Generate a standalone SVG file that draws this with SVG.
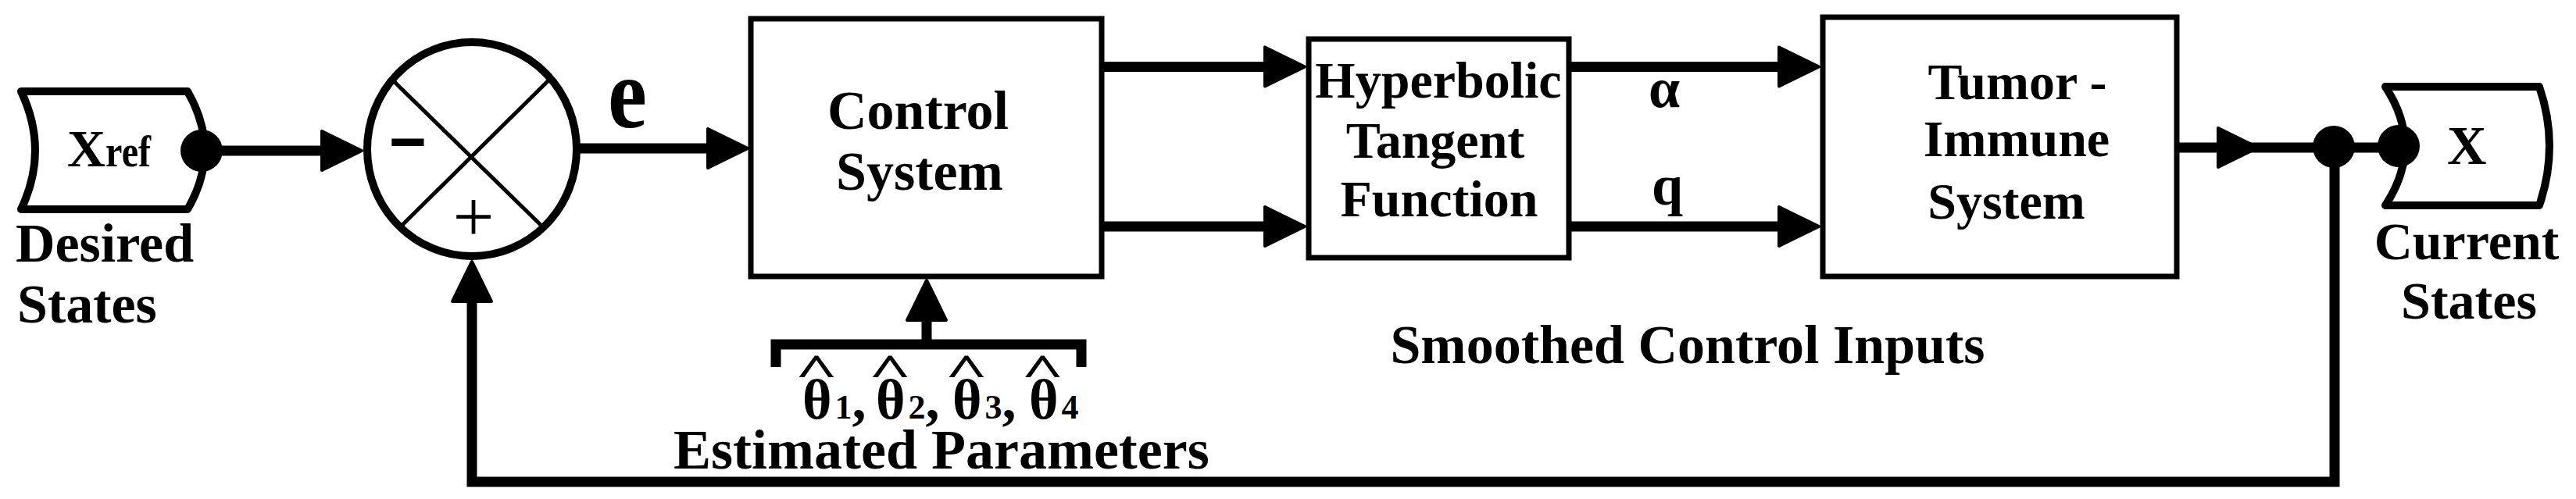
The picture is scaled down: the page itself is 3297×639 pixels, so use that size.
<svg xmlns="http://www.w3.org/2000/svg" xmlns:xlink="http://www.w3.org/1999/xlink" width="3297" height="639" viewBox="0 0 3297 639">
<style>
.t{font-family:"Liberation Serif","Times New Roman",serif;font-weight:bold;fill:#000}
.m{text-anchor:middle}
.box{fill:#fff;stroke:#000;stroke-width:7}
.term{fill:#fff;stroke:#000;stroke-width:10;stroke-linejoin:round}
.ln{fill:none;stroke:#000;stroke-width:13}
.ah{fill:#000;stroke:#000;stroke-width:4;stroke-linejoin:round}
.dot{fill:#000}
</style>
<defs>
<path id="ah" class="ah" d="M-2,0 L-53,-25 L-53,25 Z"/>
</defs>
<rect width="3297" height="639" fill="#fff"/>

<g id="connectors">
<path class="ln" d="M258,193 H440"/>
<path class="ln" d="M738,190 H930"/>
<path class="ln" d="M1410,85.5 H1650 M1410,290 H1650"/>
<path class="ln" d="M2008,85.5 H2305 M2008,290 H2305"/>
<path class="ln" d="M2788,189 H3070"/>
<path class="ln" d="M2988,188 V617 H604 V360"/>
<path class="ln" d="M1186,441 V390"/>
<path class="ln" d="M993,470 V441 H1384 V470"/>
<use xlink:href="#ah" href="#ah" transform="translate(465,193)"/>
<use xlink:href="#ah" href="#ah" transform="translate(959,190)"/>
<use xlink:href="#ah" href="#ah" transform="translate(1672,85.5)"/>
<use xlink:href="#ah" href="#ah" transform="translate(1672,290)"/>
<use xlink:href="#ah" href="#ah" transform="translate(2330,85.5)"/>
<use xlink:href="#ah" href="#ah" transform="translate(2330,290)"/>
<use xlink:href="#ah" href="#ah" transform="translate(2892,189)"/>
<use xlink:href="#ah" href="#ah" transform="translate(1186,357) rotate(-90)"/>
<use xlink:href="#ah" href="#ah" transform="translate(604,333) rotate(-90)"/>
<circle class="dot" cx="2987" cy="188" r="27"/>
</g>

<g id="xref">
<path class="term" d="M27,117 H240 Q284,193 240,268 H27 Q63,193 27,117 Z"/>
<circle class="dot" cx="258" cy="193" r="27"/>
<text class="t" x="86" y="213" font-size="68">X<tspan font-size="58" textLength="58" lengthAdjust="spacingAndGlyphs">ref</tspan></text>
<text class="t" x="20" y="335" font-size="70">Desired</text>
<text class="t" x="22" y="413" font-size="70">States</text>
</g>

<g id="sum">
<ellipse cx="604" cy="191" rx="134" ry="137" fill="#fff" stroke="#000" stroke-width="10"/>
<path d="M503,103 L692,288 M702,103 L515,288" stroke="#000" stroke-width="5" fill="none"/>
<text class="t m" x="522" y="209" font-size="80" stroke="#000" stroke-width="4">−</text>
<text class="m" x="606" y="309" font-size="94" font-family="Liberation Serif, serif">+</text>
</g>

<text id="e-label" class="t" x="778" y="163" font-size="130" textLength="50" lengthAdjust="spacingAndGlyphs">e</text>

<g id="control">
<rect class="box" x="961" y="24" width="449" height="330"/>
<text class="t m" x="1175" y="165" font-size="70">Control</text>
<text class="t m" x="1177" y="243" font-size="70">System</text>
</g>

<g id="params">
<text class="t m" y="494" font-size="60" transform="scale(1.6,1)"><tspan x="653">^</tspan><tspan x="712">^</tspan><tspan x="773">^</tspan><tspan x="834">^</tspan></text>
<text class="t" y="536" font-size="72"><tspan x="1027">θ</tspan><tspan dx="4" font-size="44">1</tspan><tspan>,</tspan><tspan x="1121">θ</tspan><tspan dx="4" font-size="44">2</tspan><tspan>,</tspan><tspan x="1219">θ</tspan><tspan dx="4" font-size="44">3</tspan><tspan>,</tspan><tspan x="1317">θ</tspan><tspan dx="4" font-size="44">4</tspan></text>
<text class="t" x="862" y="600" font-size="72">Estimated Parameters</text>
</g>

<g id="tanh">
<rect class="box" x="1675" y="50" width="333" height="280"/>
<text class="t m" x="1841" y="125" font-size="66">Hyperbolic</text>
<text class="t m" x="1837" y="202" font-size="66">Tangent</text>
<text class="t m" x="1842" y="277" font-size="66">Function</text>
</g>

<g id="inputs">
<text class="t m" x="2130" y="137" font-size="72">α</text>
<text class="t m" x="2134" y="262" font-size="72">q</text>
<text class="t m" x="2160" y="465" font-size="70">Smoothed Control Inputs</text>
</g>

<g id="tumor">
<rect class="box" x="2333" y="22" width="453" height="332"/>
<text class="t m" x="2582" y="127" font-size="66">Tumor -</text>
<text class="t m" x="2581" y="200" font-size="66">Immune</text>
<text class="t m" x="2568" y="280" font-size="66">System</text>
</g>

<g id="xout">
<path class="term" d="M3053,111 H3250 Q3276,187 3250,263 H3053 Q3103,187 3053,111 Z"/>
<circle class="dot" cx="3070" cy="187" r="27"/>
<text class="t" x="3132" y="210" font-size="70">X</text>
<text class="t m" x="3157" y="332" font-size="68">Current</text>
<text class="t m" x="3160" y="408" font-size="68">States</text>
</g>
</svg>
